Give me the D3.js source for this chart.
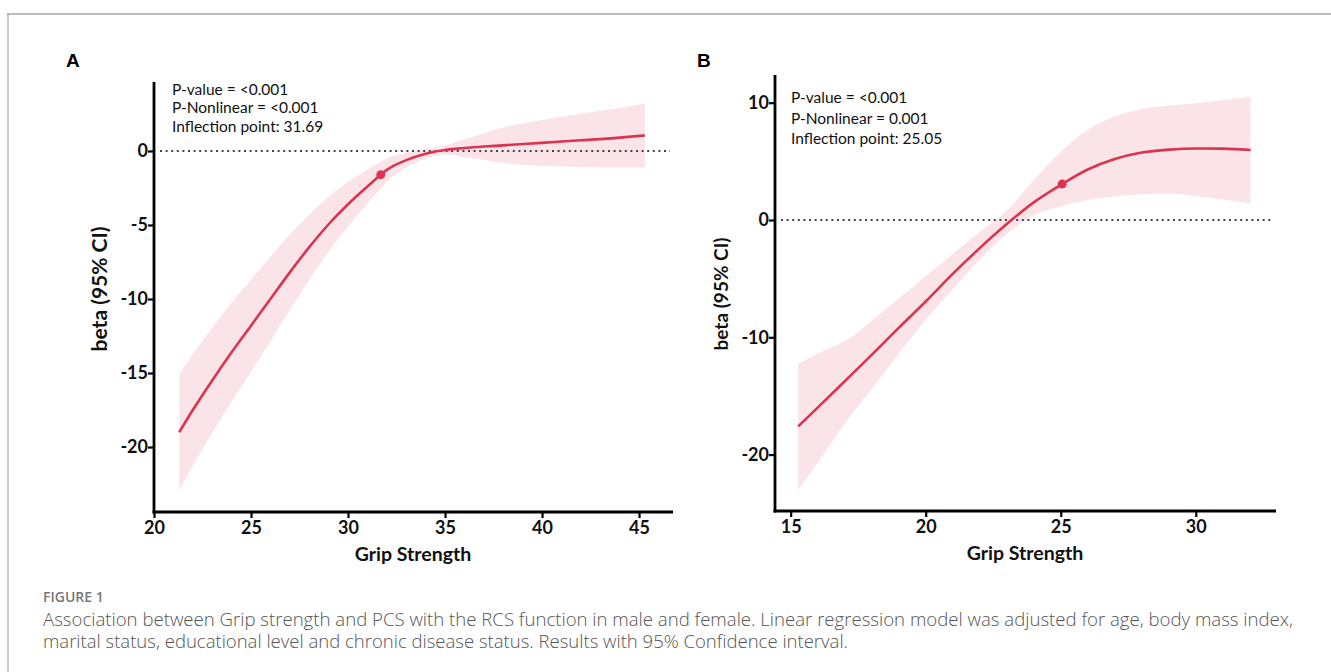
<!DOCTYPE html>
<html>
<head>
<meta charset="utf-8">
<script src="https://cdn.jsdelivr.net/npm/d3@7"></script>
<style>
  body { margin: 0; background: #fff; }
  svg { display: block; }
</style>
</head>
<body>
<div id="chart"></div>
<script>

// Panel A (male): grip strength vs beta with 95% CI
var xA = [21.3, 22, 23, 24, 25, 26, 27, 28, 29, 30, 31, 31.69, 32, 33, 34, 35, 36, 37, 38, 40, 42, 44, 45.3];
var fitA = [-19.0, -17.5, -15.5, -13.6, -11.8, -10.0, -8.2, -6.5, -4.95, -3.6, -2.4, -1.6, -1.28, -0.62, -0.18, 0.07, 0.2, 0.3, 0.38, 0.55, 0.72, 0.9, 1.05];
var upperA = [-15.1, -13.75, -11.95, -10.25, -8.7, -7.15, -5.65, -4.3, -3.1, -2.1, -1.25, -0.7, -0.5, -0.12, 0.13, 0.37, 0.8, 1.2, 1.58, 2.1, 2.52, 2.9, 3.2];
var lowerA = [-22.9, -21.25, -19.05, -16.95, -14.9, -12.85, -10.75, -8.7, -6.8, -5.1, -3.55, -2.5, -2.06, -1.12, -0.51, -0.25, -0.4, -0.6, -0.82, -1.0, -1.08, -1.1, -1.1];
var ticksXA = [20, 25, 30, 35, 40, 45];
var ticksYA = [0, -5, -10, -15, -20];
var notesA = ["P-value = <0.001", "P-Nonlinear = <0.001", "Inflection point: 31.69"];
var inflectA = 31.69;

// Panel B (female)
var xB = [15.28, 16, 17.31, 18, 19, 20, 21, 22, 23, 24, 25.05, 26, 27, 28, 29, 30, 31, 32.03];
var fitB = [-17.6, -16.0, -13.05, -11.5, -9.2, -6.95, -4.6, -2.4, -0.35, 1.5, 3.06, 4.3, 5.2, 5.75, 6.0, 6.1, 6.08, 5.96];
var upperB = [-12.26, -11.4, -9.9, -8.6, -6.7, -4.8, -2.9, -1.0, 0.8, 3.4, 5.9, 7.7, 8.85, 9.45, 9.75, 9.95, 10.2, 10.5];
var lowerB = [-23.0, -20.7, -16.4, -14.4, -11.4, -8.5, -5.9, -3.4, -1.2, 0.4, 1.2, 1.7, 2.0, 2.2, 2.25, 2.05, 1.75, 1.4];
var ticksXB = [15, 20, 25, 30];
var ticksYB = [10, 0, -10, -20];
var notesB = ["P-value = <0.001", "P-Nonlinear = 0.001", "Inflection point: 25.05"];
var inflectB = 25.05;

var captionTitle = "FIGURE 1";
var captionLines = [
  "Association between Grip strength and PCS with the RCS function in male and female. Linear regression model was adjusted for age, body mass index,",
  "marital status, educational level and chronic disease status. Results with 95% Confidence interval."
];
var captionWidths = [1250, 805];

var W = 1331, H = 672;
var lineColor = "#dc3350";
var bandColor = "#fbe4e8";
var fontLabel = "Lato, 'Open Sans', sans-serif";

var svg = d3.select("#chart").append("svg")
  .attr("width", W)
  .attr("height", H);

// frame
svg.append("line").attr("x1", 7).attr("x2", W).attr("y1", 14).attr("y2", 14)
  .attr("stroke", "#bdbdbd").attr("stroke-width", 2);
svg.append("line").attr("x1", 8).attr("x2", 8).attr("y1", 14).attr("y2", H)
  .attr("stroke", "#9a9a9a").attr("stroke-width", 1);

var drawPanel = function(cfg) {
  var x = d3.scaleLinear().domain(cfg.xDomain).range([cfg.left, cfg.right]);
  var y = d3.scaleLinear().domain(cfg.yDomain).range([cfg.bottom, cfg.top]);
  var g = svg.append("g");

  var rows = cfg.xs.map(function(d, i) {
    return { x: d, fit: cfg.fit[i], lo: cfg.lower[i], hi: cfg.upper[i] };
  });

  g.append("path")
    .datum(rows)
    .attr("fill", bandColor)
    .attr("d", d3.area()
      .curve(d3.curveMonotoneX)
      .x(function(d) { return x(d.x); })
      .y0(function(d) { return y(d.lo); })
      .y1(function(d) { return y(d.hi); }));

  // zero reference
  g.append("line")
    .attr("x1", cfg.left + 6)
    .attr("x2", cfg.zeroEnd)
    .attr("y1", y(0))
    .attr("y2", y(0))
    .attr("stroke", "#444")
    .attr("stroke-width", 2)
    .attr("stroke-dasharray", "2,3.6");

  g.append("path")
    .datum(rows)
    .attr("fill", "none")
    .attr("stroke", lineColor)
    .attr("stroke-width", 2.6)
    .attr("d", d3.line()
      .curve(d3.curveMonotoneX)
      .x(function(d) { return x(d.x); })
      .y(function(d) { return y(d.fit); }));

  var k = cfg.xs.indexOf(cfg.inflect);
  g.append("circle")
    .attr("cx", x(cfg.inflect))
    .attr("cy", y(cfg.fit[k]))
    .attr("r", 4.5)
    .attr("fill", lineColor);

  // axes
  var xAxis = g.append("g")
    .attr("transform", "translate(0," + cfg.bottom + ")")
    .call(d3.axisBottom(x).tickValues(cfg.ticksX).tickSize(6).tickSizeOuter(0).tickPadding(3));
  var yAxis = g.append("g")
    .attr("transform", "translate(" + cfg.left + ",0)")
    .call(d3.axisLeft(y).tickValues(cfg.ticksY).tickSize(6).tickSizeOuter(0).tickPadding(0)
      .tickFormat(function(d) { return d < 0 ? "-" + Math.abs(d) : d; }));
  [xAxis, yAxis].forEach(function(a) {
    a.select(".domain").attr("stroke", "#000").attr("stroke-width", 2.8);
    a.selectAll(".tick line").attr("stroke", "#000").attr("stroke-width", 2.2);
    a.selectAll(".tick text")
      .attr("fill", "#111")
      .style("font-family", fontLabel)
      .style("font-weight", "bold")
      .style("font-size", cfg.tickSize + "px");
  });
  xAxis.select(".domain").attr("d", "M" + (cfg.left - 1.4) + ",0H" + cfg.right);
  yAxis.select(".domain").attr("d", "M0," + cfg.top + "V" + (cfg.bottom + 1.4));

  g.append("text")
    .attr("x", cfg.xTitleX)
    .attr("y", cfg.bottom + 49)
    .attr("text-anchor", "middle")
    .style("font-family", fontLabel)
    .style("font-weight", "bold")
    .style("font-size", "19.5px")
    .attr("fill", "#111")
    .text("Grip Strength");

  g.append("text")
    .attr("transform", "translate(" + cfg.yTitleX + "," + cfg.yTitleY + ") rotate(-90)")
    .attr("text-anchor", "middle")
    .style("font-family", fontLabel)
    .style("font-weight", "bold")
    .style("font-size", cfg.yTitleSize + "px")
    .attr("fill", "#111")
    .text("beta (95% CI)");

  cfg.notes.forEach(function(t, i) {
    g.append("text")
      .attr("x", cfg.noteX)
      .attr("y", cfg.noteY + i * cfg.noteGap)
      .style("font-family", fontLabel)
      .style("font-size", cfg.noteSize + "px")
      .attr("fill", "#111")
      .text(t);
  });

  g.append("text")
    .attr("x", cfg.labelX)
    .attr("y", 67)
    .style("font-family", "'Liberation Sans', Arial, sans-serif")
    .style("font-weight", "bold")
    .style("font-size", "19px")
    .text(cfg.label);
};

drawPanel({
  label: "A", labelX: 66,
  xs: xA, fit: fitA, upper: upperA, lower: lowerA, inflect: inflectA,
  xDomain: [20, 46.75], yDomain: [-24.39, 4.66],
  left: 154, right: 673, top: 82, bottom: 512, zeroEnd: 670,
  ticksX: ticksXA, ticksY: ticksYA, tickSize: 18,
  notes: notesA, noteX: 172, noteY: 95, noteGap: 18.3, noteSize: 15.5,
  xTitleX: 413, yTitleX: 107, yTitleY: 289, yTitleSize: 21
});

drawPanel({
  label: "B", labelX: 697,
  xs: xB, fit: fitB, upper: upperB, lower: lowerB, inflect: inflectB,
  xDomain: [14.42, 32.97], yDomain: [-24.81, 12.36],
  left: 775, right: 1276, top: 75, bottom: 511, zeroEnd: 1271,
  ticksX: ticksXB, ticksY: ticksYB, tickSize: 18,
  notes: notesB, noteX: 791, noteY: 103, noteGap: 20.5, noteSize: 15.5,
  xTitleX: 1025, yTitleX: 728, yTitleY: 294, yTitleSize: 19
});

// caption
svg.append("text")
  .attr("x", 43).attr("y", 602)
  .style("font-family", "'Open Sans', sans-serif")
  .style("font-weight", 600)
  .style("font-size", "14px")
  .attr("fill", "#777")
  .text(captionTitle);

captionLines.forEach(function(t, i) {
  svg.append("text")
    .attr("x", 43).attr("y", 626 + i * 22)
    .style("font-family", "'Open Sans', sans-serif")
    .style("font-weight", 300)
    .style("font-size", "17.5px")
    .attr("fill", "#555")
    .attr("textLength", captionWidths[i])
    .attr("lengthAdjust", "spacingAndGlyphs")
    .text(t);
});

</script>
</body>
</html>
